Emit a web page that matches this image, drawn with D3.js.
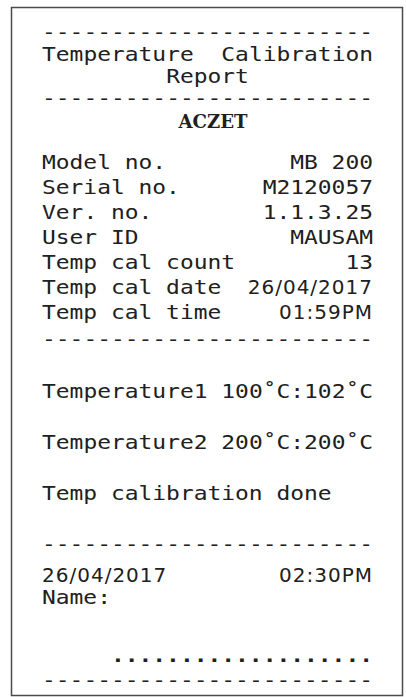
<!DOCTYPE html>
<html>
<head>
<meta charset="utf-8">
<script src="https://cdn.jsdelivr.net/npm/d3@7"></script>
<style>
  html, body { margin: 0; padding: 0; background: #fff; }
  svg { display: block; }
</style>
</head>
<body>
<div id="receipt"></div>
<script>
// contenu du ticket (imprimante 24 colonnes)
var rule = "------------------------";
var titleLines = ["Temperature  Calibration", "Report"];
var brand = "ACZET";
var fieldLabels = ["Model no.", "Serial no.", "Ver. no.", "User ID", "Temp cal count", "Temp cal date", "Temp cal time"];
var fieldValues = ["MB 200", "M2120057", "1.1.3.25", "MAUSAM", "13", "26/04/2017", "01:59PM"];
var tempLabels = ["Temperature1", "Temperature2"];
var setPoints = [100, 200];
var readings = [102, 200];
var statusText = "Temp calibration done";
var printDate = "26/04/2017";
var printTime = "02:30PM";
var signLabel = "Name:";
var signDots = "...................";

var W = 406, H = 697;
var ink = "#202020";
var fs = 20;

var svg = d3.select("#receipt").append("svg")
    .attr("width", W)
    .attr("height", H);

/* cadre du ticket */
svg.append("rect")
    .attr("x", 11.5)
    .attr("y", 7.5)
    .attr("width", 391)
    .attr("height", 688)
    .attr("fill", "none")
    .attr("stroke", "#4a4a4a")
    .attr("stroke-width", 1.5);

/* grille de colonnes de l'imprimante */
var col = d3.scaleLinear().domain([0, 24]).range([42, 373]);
var cw = col(1) - col(0);

/* lignes des champs et des mesures */
var yField = d3.scalePoint().domain(fieldLabels).range([169, 319]);
var yTemp = d3.scalePoint().domain(tempLabels).range([398, 449]);

// texte monospace etire pour remplir exactement ses cases
function mono(t, c, y, anchor) {
    return svg.append("text")
        .attr("x", col(c))
        .attr("y", y)
        .attr("text-anchor", anchor || "start")
        .attr("font-family", "'DejaVu Sans Mono', monospace")
        .attr("font-size", fs)
        .attr("textLength", t.length * cw)
        .attr("lengthAdjust", "spacingAndGlyphs")
        .attr("fill", ink)
        .attr("xml:space", "preserve")
        .style("white-space", "pre")
        .text(t);
}

// date et heure : police proportionnelle
function sans(t, c, y, anchor) {
    return svg.append("text")
        .attr("x", col(c))
        .attr("y", y)
        .attr("text-anchor", anchor || "start")
        .attr("font-family", "'DejaVu Sans', sans-serif")
        .attr("font-size", fs)
        .attr("letter-spacing", 1)
        .attr("fill", ink)
        .text(t);
}

/* traits de separation */
[39, 105, 346, 551, 687].forEach(function (y) {
    mono(rule, 0, y);
});

/* en-tete */
mono(titleLines[0], 0, 61);
mono(titleLines[1], 9, 83);

svg.append("text")
    .attr("x", col(9.9))
    .attr("y", 128)
    .attr("font-family", "'DejaVu Serif', serif")
    .attr("font-weight", "bold")
    .attr("font-size", 19)
    .attr("textLength", 69)
    .attr("lengthAdjust", "spacingAndGlyphs")
    .attr("fill", ink)
    .text(brand);

/* champs : libelle a gauche, valeur alignee a droite */
fieldLabels.forEach(function (d, i) {
    mono(d, 0, yField(d));
    if (i >= 5) {
        sans(fieldValues[i], 24, yField(d), "end");
    } else {
        mono(fieldValues[i], 24, yField(d), "end");
    }
});

/* mesures de temperature */
tempLabels.forEach(function (d, i) {
    mono(d + " " + setPoints[i] + "\u02DAC:" + readings[i] + "\u02DAC", 0, yTemp(d));
});

mono(statusText, 0, 500);

/* pied */
sans(printDate, 0, 582);
sans(printTime, 24, 582, "end");
mono(signLabel, 0, 604);
mono(signDots, 5, 662).attr("font-weight", "bold");
</script>
</body>
</html>
